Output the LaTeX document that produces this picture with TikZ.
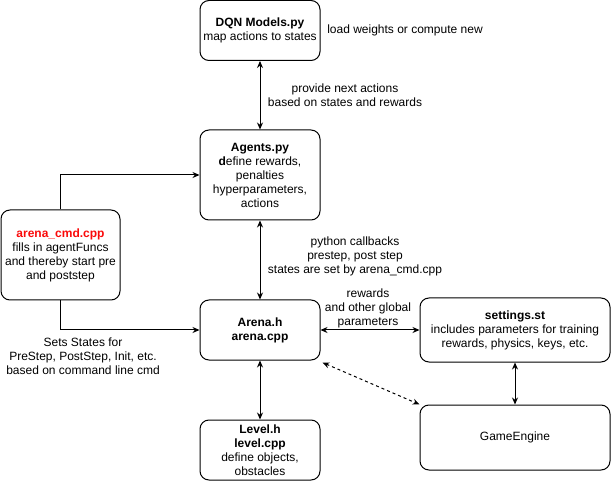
\documentclass[tikz,border=0pt]{standalone}
\usepackage{fontspec}
\setmainfont{Liberation Sans}
\usetikzlibrary{arrows.meta}
\definecolor{cmdred}{RGB}{250,10,10}
\tikzset{
  box/.style={draw=black, line width=1pt, rounded corners=9pt, align=center, inner sep=2pt,
    font=\fontsize{12}{14}\selectfont},
  lbl/.style={align=center, inner sep=0pt, font=\fontsize{12}{14}\selectfont},
  link/.style={line width=1pt, {Stealth[length=7pt,width=6pt]}-{Stealth[length=7pt,width=6pt]}},
  onearrow/.style={line width=1pt, -{Stealth[length=7pt,width=6pt]}},
}
\begin{document}
\begin{tikzpicture}[x=1pt,y=-1pt]
\useasboundingbox (0,0) rectangle (611,481);
\node[box, minimum width=120pt, minimum height=60pt] (dqn) at (260,30.5) {\textbf{DQN Models.py}\\map actions to states};
\node[box, minimum width=120pt, minimum height=90pt] (agents) at (260,175) {\textbf{Agents.py}\\\textbf{d}efine rewards,\\penalties\\hyperparameters,\\actions};
\node[box, minimum width=119pt, minimum height=90pt] (cmd) at (60.5,255) {\textcolor{cmdred}{\textbf{arena\_cmd.cpp}}\\fills in agentFuncs\\and thereby start pre\\and poststep};
\node[box, minimum width=120pt, minimum height=60pt] (arena) at (260,330) {\textbf{Arena.h}\\\textbf{arena.cpp}};
\node[box, minimum width=120pt, minimum height=60pt] (level) at (260,450) {\textbf{Level.h}\\\textbf{level.cpp}\\define objects,\\obstacles};
\node[box, minimum width=190pt, minimum height=64pt] (settings) at (515,330) {\textbf{settings.st}\\includes parameters for training\\rewards, physics, keys, etc.};
\node[box, minimum width=190pt, minimum height=65pt] (game) at (515,437.5) {GameEngine};

\draw[link] (dqn) -- (agents);
\draw[link] (agents) -- (arena);
\draw[link] (arena) -- (level);
\draw[link] (arena) -- (settings);
\draw[link] (settings) -- (game);
\draw[link, dashed] ([shift={(2,2)}]arena.south east) -- (game.north west);
\draw[onearrow] (cmd.north) |- (agents.west);
\draw[onearrow] (cmd.south) |- (arena.west);

\node[lbl] (l1) at (405,30) {load weights or compute new};
\node[lbl] (l2) at (345,95) {provide next actions\\based on states and rewards};
\node[lbl] (l3) at (355,256) {python callbacks\\prestep, post step\\states are set by arena\_cmd.cpp};
\node[lbl] (l4) at (368,308) {rewards\\and other global\\parameters};
\node[lbl] (l5) at (83,356) {Sets States for\\PreStep, PostStep, Init, etc.\\based on command line cmd};
\end{tikzpicture}
\end{document}
